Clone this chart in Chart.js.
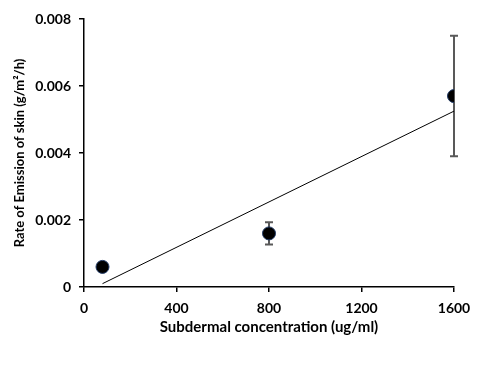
<!DOCTYPE html>
<html>
<head>
<meta charset="utf-8">
<script src="https://cdn.jsdelivr.net/npm/chart.js@4"></script>
<style>
  html, body { margin: 0; padding: 0; background: #fff; }
  #wrap { width: 491px; height: 381px; }
</style>
</head>
<body>
<div id="wrap"><canvas id="emissionChart" width="491" height="381"></canvas></div>
<script>
// values
const concentrations = [80, 800, 1600];
const emissionRates = [0.0006, 0.0016, 0.0057];
const emissionErrors = [0, 0.00033, 0.0018];
const trendX = [80, 1600];
const trendY = [0.0001, 0.00525];
const xTicks = [0, 400, 800, 1200, 1600];
const yTicks = [0, 0.002, 0.004, 0.006, 0.008];

const fontFamily = "Lato, 'Open Sans', sans-serif";

// error bars, drawn under the markers
const errorBars = {
  id: "errorBars",
  beforeDatasetsDraw(chart) {
    const { ctx, scales } = chart;
    ctx.save();
    ctx.strokeStyle = "#595959";
    ctx.lineWidth = 2;
    concentrations.forEach((x, i) => {
      if (!emissionErrors[i]) return;
      const px = scales.x.getPixelForValue(x);
      const top = scales.y.getPixelForValue(emissionRates[i] + emissionErrors[i]);
      const bottom = scales.y.getPixelForValue(emissionRates[i] - emissionErrors[i]);
      ctx.beginPath();
      ctx.moveTo(px, top);
      ctx.lineTo(px, bottom);
      ctx.moveTo(px - 4, top);
      ctx.lineTo(px + 4, top);
      ctx.moveTo(px - 4, bottom);
      ctx.lineTo(px + 4, bottom);
      ctx.stroke();
    });
    ctx.restore();
  },
};

const ctx = document.getElementById("emissionChart").getContext("2d");

new Chart(ctx, {
  type: "scatter",
  data: {
    datasets: [
      {
        label: "Measured",
        data: concentrations.map((x, i) => ({ x: x, y: emissionRates[i] })),
        pointRadius: 6.5,
        pointBackgroundColor: "#000",
        pointBorderColor: "#1f3864",
        pointBorderWidth: 1,
        order: 1,
      },
      {
        label: "Linear fit",
        type: "line",
        data: trendX.map((x, i) => ({ x: x, y: trendY[i] })),
        borderColor: "#000",
        borderWidth: 1,
        pointRadius: 0,
        fill: false,
        order: 2,
      },
    ],
  },
  options: {
    responsive: false,
    animation: false,
    layout: { padding: { top: 19, right: 37, left: 0, bottom: 0 } },
    plugins: {
      legend: { display: false },
      tooltip: { enabled: false },
    },
    scales: {
      x: {
        type: "linear",
        min: 0,
        max: 1600,
        afterBuildTicks: (scale) => { scale.ticks = xTicks.map((v) => ({ value: v })); },
        afterFit: (scale) => { scale.height = 94; },
        grid: { drawOnChartArea: false, color: "#000", tickLength: 5, lineWidth: 1.5 },
        border: { color: "#000", width: 1.5 },
        ticks: {
          color: "#000",
          padding: 8,
          callback: (v) => String(v),
          font: { family: fontFamily, size: 14, weight: "bold" },
        },
        title: {
          display: true,
          text: "Subdermal concentration (ug/ml)",
          color: "#000",
          padding: { top: 4, bottom: 45 },
          font: { family: fontFamily, size: 15, weight: "bold" },
        },
      },
      y: {
        type: "linear",
        min: 0,
        max: 0.008,
        afterBuildTicks: (scale) => { scale.ticks = yTicks.map((v) => ({ value: v })); },
        afterFit: (scale) => { scale.width = 84; },
        grid: { drawOnChartArea: false, color: "#000", tickLength: 5, lineWidth: 1.5 },
        border: { color: "#000", width: 1.5 },
        ticks: {
          color: "#000",
          padding: 8,
          callback: (v) => (v === 0 ? "0" : v.toFixed(3)),
          font: { family: fontFamily, size: 14, weight: "bold" },
        },
        title: {
          display: true,
          text: "Rate of Emission of skin (g/m\u00B2/h)",
          color: "#000",
          padding: { top: 12, bottom: 2 },
          font: { family: fontFamily, size: 13, weight: "bold" },
        },
      },
    },
  },
  plugins: [errorBars],
});
</script>
</body>
</html>
